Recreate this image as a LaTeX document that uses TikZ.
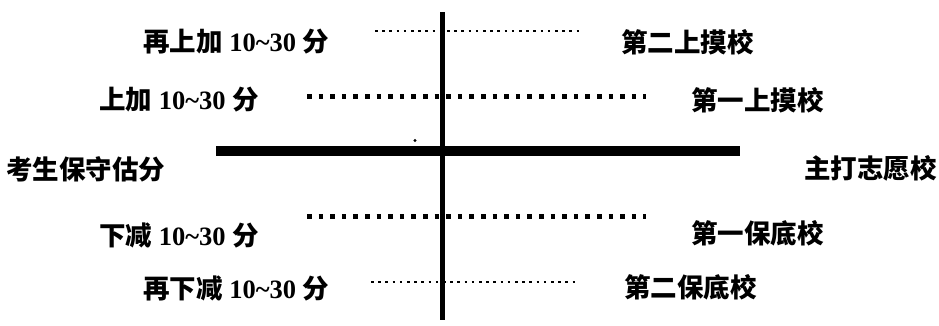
\documentclass[tikz,border=0pt]{standalone}
\usepackage{fontspec}
\setmainfont{Liberation Serif}
\newfontfamily\cjk{Noto Sans CJK SC}
\newcommand\fenshu{10\char`\~30}
\tikzset{
  tag/.style={anchor=west, inner sep=0pt,
    font=\fontsize{26.5}{30}\selectfont\bfseries},
  school/.style={tag, font=\fontsize{26.5}{30}\selectfont\bfseries\cjk},
  thin dots/.style={line width=2.6pt, dash pattern=on 2.6pt off 4.6pt},
  fat dots/.style={line width=4.6pt, dash pattern=on 4.6pt off 7pt},
  axis/.style={line width=#1}
}

\begin{document}
\begin{tikzpicture}[x=1pt, y=-1pt]
\useasboundingbox (0,0) rectangle (939,325);

% score side
\node[tag] (up2)   at (143,42)  {{\cjk 再上加} \fenshu{} {\cjk 分}};
\node[tag] (up1)   at (99,100)  {{\cjk 上加} \fenshu{} {\cjk 分}};
\node[school] (est) at (6,169)  {考生保守估分};
\node[tag] (down1) at (99,235)  {{\cjk 下减} \fenshu{} {\cjk 分}};
\node[tag] (down2) at (143,288) {{\cjk 再下减} \fenshu{} {\cjk 分}};

% school side
\node[school] (reach2) at (621,42)  {第二上摸校};
\node[school] (reach1) at (691,100) {第一上摸校};
\node[school] (main)   at (804,168) {主打志愿校};
\node[school] (safe1)  at (691,233) {第一保底校};
\node[school] (safe2)  at (624,287) {第二保底校};

\coordinate (v-top) at (442.5,12);
\coordinate (v-bot) at (442.5,320);
\coordinate (h-l) at (216,150.5);
\coordinate (h-r) at (740,150.5);

\draw[axis=10pt] (h-l) -- (h-r);
\draw[axis=4.5pt] (v-top) -- (v-bot);

\draw[thin dots] (375,31) -- (580,31);
\draw[fat dots]  (307,96.5) -- (646,96.5);
\draw[fat dots]  (307,216.5) -- (646,216.5);
\draw[thin dots] (371,282) -- (575,282);

\fill (415,140.5) circle (1.6);
\end{tikzpicture}
\end{document}
